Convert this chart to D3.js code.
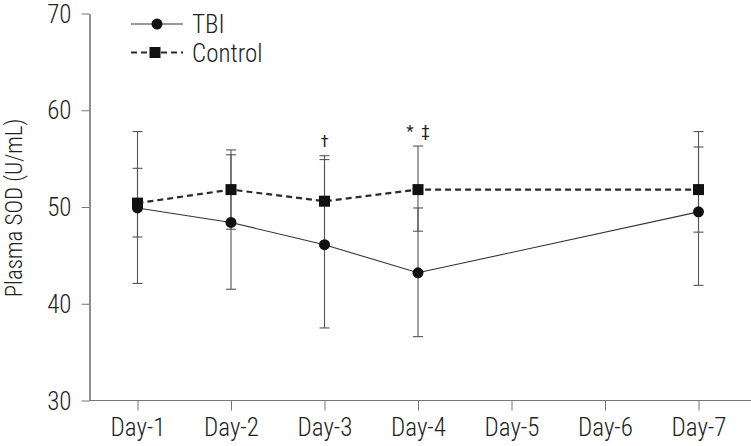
<!DOCTYPE html>
<html>
<head>
<meta charset="utf-8">
<script src="https://cdn.jsdelivr.net/npm/d3@7"></script>
<style>
  html, body { margin: 0; padding: 0; background: #fff; }
  svg { display: block; }
  text { font-family: "Liberation Sans Narrow", "Roboto Condensed", "DejaVu Sans Condensed", "Liberation Sans", sans-serif; fill: #222; font-weight: 300; }
</style>
</head>
<body>
<svg id="chart" width="751" height="446"></svg>
<script>
// ---- data ----
const days = ["Day-1", "Day-2", "Day-3", "Day-4", "Day-5", "Day-6", "Day-7"];
const yTicks = [30, 40, 50, 60, 70];
const seriesNames = ["TBI", "Control"];

const tbiDays = ["Day-1", "Day-2", "Day-3", "Day-4", "Day-7"];
const tbiMean = [49.9, 48.4, 46.1, 43.2, 49.5];
const tbiLow  = [42.1, 41.5, 37.5, 36.6, 41.9];
const tbiHigh = [57.8, 55.4, 54.9, 49.9, 57.8];

const ctrlDays = ["Day-1", "Day-2", "Day-3", "Day-4", "Day-7"];
const ctrlMean = [50.4, 51.8, 50.6, 51.8, 51.8];
const ctrlLow  = [46.9, 47.7, 46.0, 47.5, 47.4];
const ctrlHigh = [54.0, 55.9, 55.3, 56.3, 56.2];

const annotDays = ["Day-3", "Day-4"];
const annotText = ["\u2020", "*\u2002\u2021"];

// ---- layout ----
const svg = d3.select("#chart");
const axisX = 89.5, axisY = 400.5;
const x = d3.scalePoint().domain(days).range([137.5, 698.5]);
const y = d3.scaleLinear().domain([30, 70]).range([axisY, 13.5]);
const ink = "#2a2a2a";
const fontStack = "'Liberation Sans Narrow', 'Roboto Condensed', 'DejaVu Sans Condensed', sans-serif";

const tbi = tbiDays.map((d, i) => ({ day: d, mean: tbiMean[i], lo: tbiLow[i], hi: tbiHigh[i] }));
const ctrl = ctrlDays.map((d, i) => ({ day: d, mean: ctrlMean[i], lo: ctrlLow[i], hi: ctrlHigh[i] }));

// ---- axes ----
const yAxis = svg.append("g")
  .attr("transform", `translate(${axisX},0)`)
  .call(d3.axisLeft(y).tickValues(yTicks).tickSize(8).tickSizeOuter(0).tickPadding(10).tickFormat(d3.format("d")));
yAxis.select(".domain").attr("stroke", "#444").attr("stroke-width", 1.2);
yAxis.selectAll(".tick line").attr("stroke", "#777");
yAxis.selectAll(".tick text").attr("font-size", 25).attr("fill", "#222").attr("dy", "0.34em")
  .attr("font-family", fontStack);

const xAxis = svg.append("g")
  .attr("transform", `translate(0,${axisY})`)
  .call(d3.axisBottom(x).tickSize(10).tickSizeOuter(0).tickPadding(8));
xAxis.select(".domain").remove();
xAxis.append("line").attr("x1", axisX).attr("x2", 751).attr("y1", 0).attr("y2", 0)
  .attr("stroke", "#777").attr("stroke-width", 1.2);
xAxis.selectAll(".tick line").attr("stroke", "#777");
xAxis.selectAll(".tick text").attr("font-size", 25).attr("fill", "#222")
  .attr("font-family", fontStack);

// y title
svg.append("text")
  .attr("transform", `translate(22,208) rotate(-90)`)
  .attr("text-anchor", "middle")
  .attr("font-size", 23)
  .text("Plasma SOD (U/mL)");

// ---- error bars ----
function errorBars(data, cls) {
  const g = svg.append("g").attr("class", cls);
  g.selectAll("line.v").data(data).join("line").attr("class", "v")
    .attr("x1", d => x(d.day)).attr("x2", d => x(d.day))
    .attr("y1", d => y(d.lo)).attr("y2", d => y(d.hi))
    .attr("stroke", "#555").attr("stroke-width", 1.1);
  ["lo", "hi"].forEach(k => {
    g.selectAll("line.c" + k).data(data).join("line").attr("class", "c" + k)
      .attr("x1", d => x(d.day) - 5).attr("x2", d => x(d.day) + 5)
      .attr("y1", d => y(d[k])).attr("y2", d => y(d[k]))
      .attr("stroke", "#555").attr("stroke-width", 1.1);
  });
}
errorBars(tbi, "eb-tbi");
errorBars(ctrl, "eb-ctrl");

// ---- lines ----
const line = d3.line().x(d => x(d.day)).y(d => y(d.mean));
svg.append("path").datum(ctrl).attr("d", line)
  .attr("fill", "none").attr("stroke", ink).attr("stroke-width", 2.2).attr("stroke-dasharray", "6,4");
svg.append("path").datum(tbi).attr("d", line)
  .attr("fill", "none").attr("stroke", "#333").attr("stroke-width", 1.1);

// ---- markers ----
svg.append("g").selectAll("rect").data(ctrl).join("rect")
  .attr("x", d => x(d.day) - 5.5).attr("y", d => y(d.mean) - 5.5)
  .attr("width", 11).attr("height", 11).attr("fill", "#111");
svg.append("g").selectAll("circle").data(tbi).join("circle")
  .attr("cx", d => x(d.day)).attr("cy", d => y(d.mean)).attr("r", 5.5).attr("fill", "#111");

// ---- annotations ----
const topOf = day => d3.max([...tbi, ...ctrl].filter(d => d.day === day), d => d.hi);
svg.append("g").selectAll("text").data(annotDays).join("text")
  .attr("x", d => x(d)).attr("y", d => y(topOf(d)) - 9)
  .attr("text-anchor", "middle").attr("font-size", 17)
  .style("fill", "#222").style("font-weight", 400)
  .attr("font-family", "'Liberation Sans', 'DejaVu Sans', sans-serif")
  .text((d, i) => annotText[i]);

// ---- legend ----
const legend = svg.append("g");
seriesNames.forEach((name, i) => {
  const ly = 24 + i * 28.5;
  const g = legend.append("g").attr("transform", `translate(0,${ly})`);
  g.append("line").attr("x1", 131).attr("x2", 183).attr("y1", 0).attr("y2", 0)
    .attr("stroke", i === 0 ? "#333" : ink)
    .attr("stroke-width", i === 0 ? 1.1 : 2.2)
    .attr("stroke-dasharray", i === 0 ? null : "6,4");
  if (i === 0) g.append("circle").attr("cx", 157).attr("cy", 0).attr("r", 5.5).attr("fill", "#111");
  else g.append("rect").attr("x", 149.5).attr("y", -5.5).attr("width", 11).attr("height", 11).attr("fill", "#111");
  g.append("text").attr("x", 192).attr("y", 9).attr("font-size", 25).text(name);
});
</script>
</body>
</html>
